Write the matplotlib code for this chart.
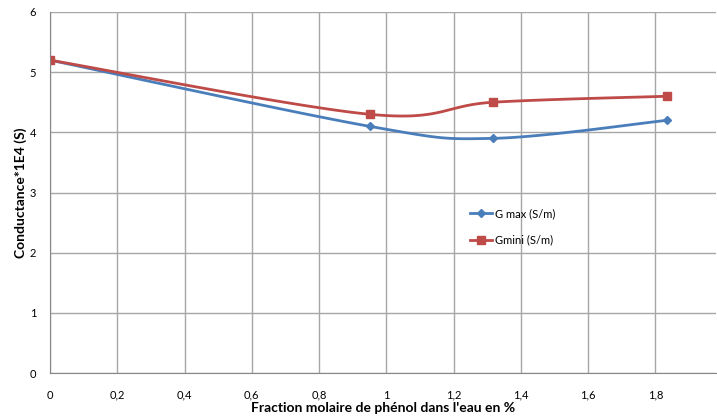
import numpy as np
from matplotlib import pyplot as plt

plt.rcParams['font.family'] = ['Lato', 'DejaVu Sans']

fraction = [0.0, 0.95, 1.317, 1.835]
g_max = [5.2, 4.1, 3.9, 4.2]
g_mini = [5.2, 4.3, 4.5, 4.6]
x_ticks = [0, 0.2, 0.4, 0.6, 0.8, 1.0, 1.2, 1.4, 1.6, 1.8]
x_tick_labels = ["0", "0,2", "0,4", "0,6", "0,8", "1", "1,2", "1,4", "1,6", "1,8"]


def smooth(xs, ys, n=40):
    # excel-like smoothing: cubic bezier with catmull-rom control points
    xs = np.asarray(xs, float)
    ys = np.asarray(ys, float)
    px = np.concatenate([[xs[0]], xs, [xs[-1]]])
    py = np.concatenate([[ys[0]], ys, [ys[-1]]])
    ox, oy = [], []
    t = np.linspace(0, 1, n)
    for i in range(1, len(px) - 2):
        p0 = np.array([px[i], py[i]])
        p3 = np.array([px[i + 1], py[i + 1]])
        p1 = p0 + (np.array([px[i + 1], py[i + 1]]) - np.array([px[i - 1], py[i - 1]])) / 6
        p2 = p3 - (np.array([px[i + 2], py[i + 2]]) - np.array([px[i], py[i]])) / 6
        b = ((1 - t) ** 3)[:, None] * p0 + (3 * (1 - t) ** 2 * t)[:, None] * p1 \
            + (3 * (1 - t) * t ** 2)[:, None] * p2 + (t ** 3)[:, None] * p3
        ox.extend(b[:, 0])
        oy.extend(b[:, 1])
    return ox, oy


fig = plt.figure(figsize=(7.17, 4.16), dpi=100)
ax = fig.add_axes([50 / 717, 43 / 416, 666 / 717, 361 / 416])

blue = "#4a7ebb"
red = "#be4b48"

sx, sy = smooth(fraction, g_max)
ax.plot(sx, sy, color=blue, lw=2)
ax.plot(fraction, g_max, ls="none", marker="D", ms=4, color=blue)
ax.plot([], [], color=blue, lw=2, marker="D", ms=4, label="G max (S/m)")

sx, sy = smooth(fraction, g_mini)
ax.plot(sx, sy, color=red, lw=2)
ax.plot(fraction, g_mini, ls="none", marker="s", ms=6, color=red)
ax.plot([], [], color=red, lw=2, marker="s", ms=6, label="Gmini (S/m)")

ax.set_xlim(0, 1.98)
ax.set_ylim(0, 6)
ax.set_xticks(x_ticks)
ax.set_xticklabels(x_tick_labels)
ax.set_yticks(range(0, 7))
ax.tick_params(length=0, labelsize=8, pad=12)
ax.tick_params(axis="y", pad=10)
ax.grid(True, color="#a6a6a6", lw=1)
ax.set_axisbelow(True)
for s in ["top", "right"]:
    ax.spines[s].set_visible(False)
for s in ["left", "bottom"]:
    ax.spines[s].set_color("#868686")

ax.set_xlabel("Fraction molaire de phénol dans l'eau en %", fontsize=10, fontweight="bold", labelpad=1)
ax.set_ylabel("Conductance*1E4 (S)", fontsize=10, fontweight="bold", labelpad=2)

ax.legend(loc="center left", bbox_to_anchor=(0.615, 0.405), frameon=False, fontsize=8,
          handlelength=2.0, handletextpad=0.3, labelspacing=1.4)

plt.savefig("out.png", dpi=100)
